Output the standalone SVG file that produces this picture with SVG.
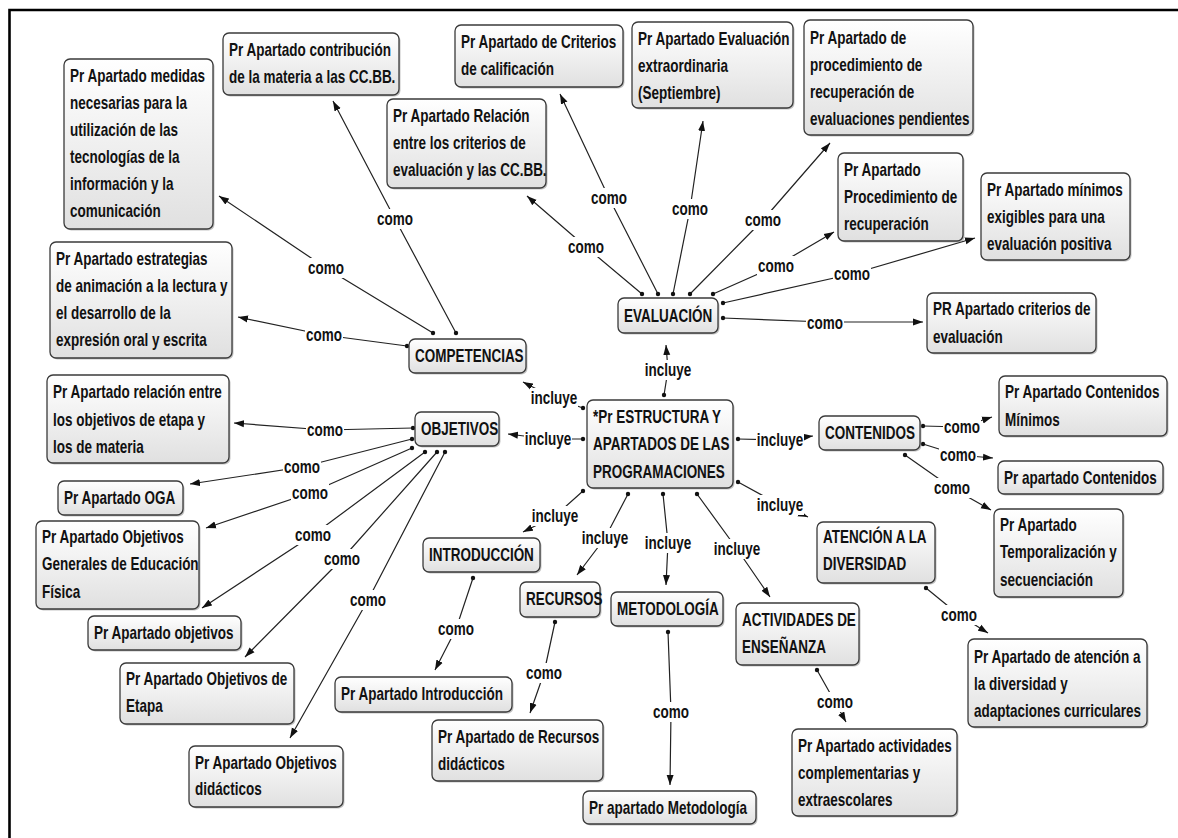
<svg xmlns="http://www.w3.org/2000/svg" width="1178" height="838" viewBox="0 0 1178 838">
<defs>
<linearGradient id="g" x1="0" y1="0" x2="0" y2="1">
<stop offset="0" stop-color="#ffffff"/>
<stop offset="1" stop-color="#e0e0e0"/>
</linearGradient>
<marker id="arr" markerUnits="userSpaceOnUse" markerWidth="10" markerHeight="8" refX="10" refY="4" orient="auto">
<path d="M0,0.5 L10,4 L0,7.5 z" fill="#111"/>
</marker>
<marker id="dot" markerUnits="userSpaceOnUse" markerWidth="6" markerHeight="6" refX="3" refY="3">
<circle cx="3" cy="3" r="2.2" fill="#111"/>
</marker>
<style>
.n rect.b{fill:url(#g);stroke:#3a3a3a;stroke-width:1.3}
.n rect.s{fill:#777;opacity:0.45}
text{font-family:"Liberation Sans",Arial,sans-serif;font-weight:bold;font-size:18px;fill:#111;transform-box:fill-box;transform-origin:0 50%;transform:scaleX(0.75)}
.c polyline{fill:none;stroke:#222;stroke-width:1.2;marker-start:url(#dot);marker-end:url(#arr)}
.l rect{fill:#fff}
.l text{text-anchor:middle;transform-origin:50% 50%}
</style>
</defs>
<rect x="0" y="0" width="1178" height="838" fill="#fff"/>
<path d="M9.5,838 L9.5,10 L1178,10" fill="none" stroke="#000" stroke-width="2.6"/>

<g id="connectors" class="c">
<polyline points="642,294 586,247 527,196"/>
<polyline points="658,294 609,198 560,94"/>
<polyline points="673,294 690,209 703,121"/>
<polyline points="690,294 763,220 830,143"/>
<polyline points="713,294 776,266 834,232"/>
<polyline points="723,303 852,274 975,238"/>
<polyline points="723,318 825,322 923,322"/>
<polyline points="456,333 395,219 333,101"/>
<polyline points="433,333 326,268 219,196"/>
<polyline points="407,346 324,335 238,317"/>
<polyline points="413,428 325,430 234,423"/>
<polyline points="412,439 302,467 190,484"/>
<polyline points="412,448 310,493 206,528"/>
<polyline points="425,452 313,535 202,608"/>
<polyline points="437,452 342,559 245,657"/>
<polyline points="445,452 368,600 290,738"/>
<polyline points="664,395 668,370 666,345"/>
<polyline points="583,408 554,398 523,382"/>
<polyline points="583,439 548,439 508,434"/>
<polyline points="738,439 780,440 813,436"/>
<polyline points="738,482 780,505 808,517"/>
<polyline points="583,491 555,516 523,532"/>
<polyline points="628,494 605,538 577,575"/>
<polyline points="663,494 668,543 666,585"/>
<polyline points="697,494 737,549 770,597"/>
<polyline points="923,426 962,427 992,417"/>
<polyline points="923,444 958,455 993,458"/>
<polyline points="905,455 952,488 991,510"/>
<polyline points="926,588 959,615 988,633"/>
<polyline points="817,670 835,702 846,722"/>
<polyline points="668,632 671,712 670,785"/>
<polyline points="555,622 544,673 530,713"/>
<polyline points="473,578 456,629 435,670"/>
</g>

<g id="labels" class="l">
<rect x="567" y="237" width="38" height="20"/><text x="586" y="253.5">como</text>
<rect x="590" y="188" width="38" height="20"/><text x="609" y="204.5">como</text>
<rect x="671" y="199" width="38" height="20"/><text x="690" y="215.5">como</text>
<rect x="744" y="210" width="38" height="20"/><text x="763" y="226.5">como</text>
<rect x="757" y="256" width="38" height="20"/><text x="776" y="272.5">como</text>
<rect x="833" y="264" width="38" height="20"/><text x="852" y="280.5">como</text>
<rect x="806" y="313" width="38" height="20"/><text x="825" y="329.5">como</text>
<rect x="376" y="209" width="38" height="20"/><text x="395" y="225.5">como</text>
<rect x="307" y="258" width="38" height="20"/><text x="326" y="274.5">como</text>
<rect x="305" y="325" width="38" height="20"/><text x="324" y="341.5">como</text>
<rect x="306" y="420" width="38" height="20"/><text x="325" y="436.5">como</text>
<rect x="283" y="457" width="38" height="20"/><text x="302" y="473.5">como</text>
<rect x="291" y="483" width="38" height="20"/><text x="310" y="499.5">como</text>
<rect x="294" y="525" width="38" height="20"/><text x="313" y="541.5">como</text>
<rect x="323" y="549" width="38" height="20"/><text x="342" y="565.5">como</text>
<rect x="349" y="590" width="38" height="20"/><text x="368" y="606.5">como</text>
<rect x="644" y="360" width="48" height="20"/><text x="668" y="376.5">incluye</text>
<rect x="530" y="388" width="48" height="20"/><text x="554" y="404.5">incluye</text>
<rect x="524" y="429" width="48" height="20"/><text x="548" y="445.5">incluye</text>
<rect x="756" y="430" width="48" height="20"/><text x="780" y="446.5">incluye</text>
<rect x="756" y="495" width="48" height="20"/><text x="780" y="511.5">incluye</text>
<rect x="531" y="506" width="48" height="20"/><text x="555" y="522.5">incluye</text>
<rect x="581" y="528" width="48" height="20"/><text x="605" y="544.5">incluye</text>
<rect x="644" y="533" width="48" height="20"/><text x="668" y="549.5">incluye</text>
<rect x="713" y="539" width="48" height="20"/><text x="737" y="555.5">incluye</text>
<rect x="943" y="417" width="38" height="20"/><text x="962" y="433.5">como</text>
<rect x="939" y="445" width="38" height="20"/><text x="958" y="461.5">como</text>
<rect x="933" y="478" width="38" height="20"/><text x="952" y="494.5">como</text>
<rect x="940" y="605" width="38" height="20"/><text x="959" y="621.5">como</text>
<rect x="816" y="692" width="38" height="20"/><text x="835" y="708.5">como</text>
<rect x="652" y="702" width="38" height="20"/><text x="671" y="718.5">como</text>
<rect x="525" y="663" width="38" height="20"/><text x="544" y="679.5">como</text>
<rect x="437" y="619" width="38" height="20"/><text x="456" y="635.5">como</text>
</g>

<g id="n-medidas" class="n"><rect class="s" x="65.5" y="60.5" width="149" height="170" rx="6"/><rect class="b" x="64" y="59" width="149" height="170" rx="6"/>
<text x="70" y="82">Pr Apartado medidas</text><text x="70" y="109">necesarias para la</text><text x="70" y="136">utilización de las</text><text x="70" y="163">tecnologías de la</text><text x="70" y="190">información y la</text><text x="70" y="217">comunicación</text></g>
<g id="n-contribucion" class="n"><rect class="s" x="224.5" y="34.5" width="176" height="62" rx="6"/><rect class="b" x="223" y="33" width="176" height="62" rx="6"/>
<text x="229" y="56">Pr Apartado contribución</text><text x="229" y="83">de la materia a las CC.BB.</text></g>
<g id="n-estrategias" class="n"><rect class="s" x="51.5" y="243.5" width="182" height="116" rx="6"/><rect class="b" x="50" y="242" width="182" height="116" rx="6"/>
<text x="56" y="265">Pr Apartado estrategias</text><text x="56" y="292">de animación a la lectura y</text><text x="56" y="319">el desarrollo de la</text><text x="56" y="346">expresión oral y escrita</text></g>
<g id="n-relacion-ccbb" class="n"><rect class="s" x="388.5" y="100.5" width="159" height="89" rx="6"/><rect class="b" x="387" y="99" width="159" height="89" rx="6"/>
<text x="393" y="122">Pr Apartado Relación</text><text x="393" y="149">entre los criterios de</text><text x="393" y="176">evaluación y las CC.BB.</text></g>
<g id="n-calificacion" class="n"><rect class="s" x="456.5" y="26.5" width="168" height="62" rx="6"/><rect class="b" x="455" y="25" width="168" height="62" rx="6"/>
<text x="461" y="48">Pr Apartado de Criterios</text><text x="461" y="75">de calificación</text></g>
<g id="n-extraordinaria" class="n"><rect class="s" x="633.5" y="23.5" width="161" height="86" rx="6"/><rect class="b" x="632" y="22" width="161" height="86" rx="6"/>
<text x="638" y="45">Pr Apartado Evaluación</text><text x="638" y="72">extraordinaria</text><text x="638" y="99">(Septiembre)</text></g>
<g id="n-pendientes" class="n"><rect class="s" x="805.5" y="21.5" width="169" height="115" rx="6"/><rect class="b" x="804" y="20" width="169" height="115" rx="6"/>
<text x="810" y="44">Pr Apartado de</text><text x="810" y="71">procedimiento de</text><text x="810" y="98">recuperación de</text><text x="810" y="125">evaluaciones pendientes</text></g>
<g id="n-procedimiento" class="n"><rect class="s" x="839.5" y="154.5" width="125" height="88" rx="6"/><rect class="b" x="838" y="153" width="125" height="88" rx="6"/>
<text x="844" y="176">Pr Apartado</text><text x="844" y="203">Procedimiento de</text><text x="844" y="230">recuperación</text></g>
<g id="n-minimos" class="n"><rect class="s" x="982.5" y="174.5" width="149" height="87" rx="6"/><rect class="b" x="981" y="173" width="149" height="87" rx="6"/>
<text x="987" y="196">Pr Apartado mínimos</text><text x="987" y="223">exigibles para una</text><text x="987" y="250">evaluación positiva</text></g>
<g id="n-criterios-eval" class="n"><rect class="s" x="928.5" y="294.5" width="169" height="60" rx="6"/><rect class="b" x="927" y="293" width="169" height="60" rx="6"/>
<text x="933" y="315">PR Apartado criterios de</text><text x="933" y="343">evaluación</text></g>
<g id="n-evaluacion" class="n"><rect class="s" x="619.5" y="299.5" width="100" height="35" rx="6"/><rect class="b" x="618" y="298" width="100" height="35" rx="6"/>
<text x="624" y="322">EVALUACIÓN</text></g>
<g id="n-competencias" class="n"><rect class="s" x="410.5" y="340.5" width="117" height="34" rx="6"/><rect class="b" x="409" y="339" width="117" height="34" rx="6"/>
<text x="415" y="362.5">COMPETENCIAS</text></g>
<g id="n-objetivos" class="n"><rect class="s" x="416.5" y="413.5" width="84" height="34" rx="6"/><rect class="b" x="415" y="412" width="84" height="34" rx="6"/>
<text x="421" y="435.5">OBJETIVOS</text></g>
<g id="n-centro" class="n"><rect class="s" x="588.5" y="401.5" width="146" height="88" rx="6"/><rect class="b" x="587" y="400" width="146" height="88" rx="6"/>
<text x="593" y="423">*Pr ESTRUCTURA Y</text><text x="593" y="450">APARTADOS DE LAS</text><text x="593" y="478">PROGRAMACIONES</text></g>
<g id="n-contenidos" class="n"><rect class="s" x="820.5" y="417.5" width="101" height="34" rx="6"/><rect class="b" x="819" y="416" width="101" height="34" rx="6"/>
<text x="825" y="439.5">CONTENIDOS</text></g>
<g id="n-cont-minimos" class="n"><rect class="s" x="1000.5" y="377.5" width="168" height="60" rx="6"/><rect class="b" x="999" y="376" width="168" height="60" rx="6"/>
<text x="1005" y="398">Pr Apartado Contenidos</text><text x="1005" y="426">Mínimos</text></g>
<g id="n-cont" class="n"><rect class="s" x="999.5" y="462.5" width="165" height="33" rx="6"/><rect class="b" x="998" y="461" width="165" height="33" rx="6"/>
<text x="1004" y="484">Pr apartado Contenidos</text></g>
<g id="n-temporalizacion" class="n"><rect class="s" x="995.5" y="510.5" width="129" height="88" rx="6"/><rect class="b" x="994" y="509" width="129" height="88" rx="6"/>
<text x="1000" y="531">Pr Apartado</text><text x="1000" y="558">Temporalización y</text><text x="1000" y="586">secuenciación</text></g>
<g id="n-atencion" class="n"><rect class="s" x="818.5" y="523.5" width="118" height="61" rx="6"/><rect class="b" x="817" y="522" width="118" height="61" rx="6"/>
<text x="823" y="543">ATENCIÓN A LA</text><text x="823" y="570">DIVERSIDAD</text></g>
<g id="n-atencion-div" class="n"><rect class="s" x="969.5" y="640.5" width="179" height="88" rx="6"/><rect class="b" x="968" y="639" width="179" height="88" rx="6"/>
<text x="974" y="663">Pr Apartado de atención a</text><text x="974" y="690">la diversidad y</text><text x="974" y="717">adaptaciones curriculares</text></g>
<g id="n-actividades" class="n"><rect class="s" x="737.5" y="604.5" width="123" height="62" rx="6"/><rect class="b" x="736" y="603" width="123" height="62" rx="6"/>
<text x="742" y="626">ACTIVIDADES DE</text><text x="742" y="653">ENSEÑANZA</text></g>
<g id="n-extraescolares" class="n"><rect class="s" x="793.5" y="730.5" width="165" height="87" rx="6"/><rect class="b" x="792" y="729" width="165" height="87" rx="6"/>
<text x="798" y="752">Pr Apartado actividades</text><text x="798" y="779">complementarias y</text><text x="798" y="806">extraescolares</text></g>
<g id="n-metodologia" class="n"><rect class="s" x="612.5" y="593.5" width="112" height="34" rx="6"/><rect class="b" x="611" y="592" width="112" height="34" rx="6"/>
<text x="617" y="615.5">METODOLOGÍA</text></g>
<g id="n-pr-metodologia" class="n"><rect class="s" x="584.5" y="792.5" width="173" height="33" rx="6"/><rect class="b" x="583" y="791" width="173" height="33" rx="6"/>
<text x="589" y="814">Pr apartado Metodología</text></g>
<g id="n-recursos" class="n"><rect class="s" x="521.5" y="583.5" width="80" height="35" rx="6"/><rect class="b" x="520" y="582" width="80" height="35" rx="6"/>
<text x="526" y="605.5">RECURSOS</text></g>
<g id="n-recursos-did" class="n"><rect class="s" x="433.5" y="721.5" width="171" height="61" rx="6"/><rect class="b" x="432" y="720" width="171" height="61" rx="6"/>
<text x="438" y="743">Pr Apartado de Recursos</text><text x="438" y="770">didácticos</text></g>
<g id="n-introduccion" class="n"><rect class="s" x="424.5" y="539.5" width="117" height="34" rx="6"/><rect class="b" x="423" y="538" width="117" height="34" rx="6"/>
<text x="429" y="561.5">INTRODUCCIÓN</text></g>
<g id="n-pr-introduccion" class="n"><rect class="s" x="336.5" y="678.5" width="177" height="35" rx="6"/><rect class="b" x="335" y="677" width="177" height="35" rx="6"/>
<text x="341" y="700.5">Pr Apartado Introducción</text></g>
<g id="n-relacion-obj" class="n"><rect class="s" x="48.5" y="376.5" width="182" height="88" rx="6"/><rect class="b" x="47" y="375" width="182" height="88" rx="6"/>
<text x="53" y="398">Pr Apartado relación entre</text><text x="53" y="426">los objetivos de etapa y</text><text x="53" y="453">los de materia</text></g>
<g id="n-oga" class="n"><rect class="s" x="59.5" y="482.5" width="125" height="34" rx="6"/><rect class="b" x="58" y="481" width="125" height="34" rx="6"/>
<text x="64" y="504.5">Pr Apartado OGA</text></g>
<g id="n-ogef" class="n"><rect class="s" x="37.5" y="522.5" width="163" height="88" rx="6"/><rect class="b" x="36" y="521" width="163" height="88" rx="6"/>
<text x="42" y="543">Pr Apartado Objetivos</text><text x="42" y="570">Generales de Educación</text><text x="42" y="598">Física</text></g>
<g id="n-pr-objetivos" class="n"><rect class="s" x="89.5" y="617.5" width="153" height="34" rx="6"/><rect class="b" x="88" y="616" width="153" height="34" rx="6"/>
<text x="94" y="639.5">Pr Apartado objetivos</text></g>
<g id="n-etapa" class="n"><rect class="s" x="121.5" y="664.5" width="174" height="61" rx="6"/><rect class="b" x="120" y="663" width="174" height="61" rx="6"/>
<text x="126" y="685">Pr Apartado Objetivos de</text><text x="126" y="712">Etapa</text></g>
<g id="n-didacticos" class="n"><rect class="s" x="190.5" y="747.5" width="154" height="61" rx="6"/><rect class="b" x="189" y="746" width="154" height="61" rx="6"/>
<text x="195" y="769">Pr Apartado Objetivos</text><text x="195" y="795">didácticos</text></g>
</svg>
